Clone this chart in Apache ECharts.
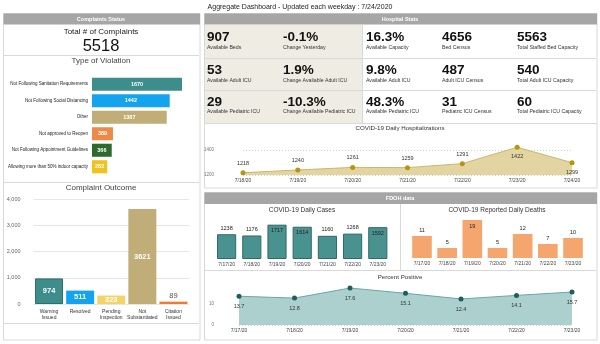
<!DOCTYPE html>
<html><head><meta charset="utf-8">
<script src="https://cdn.jsdelivr.net/npm/echarts@6/dist/echarts.min.js"></script>
<style>html,body{margin:0;padding:0;background:#fff}#c{width:600px;height:344px}</style>
</head><body><div id="c"></div>
<script>
// ---------- DATA ----------
const dashboardTitle = 'Aggregate Dashboard - Updated each weekday : 7/24/2020';
const totalComplaints = '5518';
const violationCats = ['Not Following Sanitation Requirements','Not Following Social Distancing','Other','Not approved to Reopen','Not Following Appointment Guidelines','Allowing more than 50% indoor capacity'];
const violationVals = [1670, 1442, 1387, 389, 366, 282];
const outcomeCats = ['Warning\nIssued','Resolved','Pending\nInspection','Not\nSubstantiated','Citation\nIssued'];
const outcomeVals = [974, 511, 323, 3621, 89];
const hospDates = ['7/18/20','7/19/20','7/20/20','7/21/20','7/22/20','7/23/20','7/24/20'];
const hospVals = [1218, 1240, 1261, 1259, 1291, 1422, 1299];
const fdohDates = ['7/17/20','7/18/20','7/19/20','7/20/20','7/21/20','7/22/20','7/23/20'];
const caseVals = [1238, 1176, 1717, 1614, 1160, 1268, 1592];
const deathVals = [11, 5, 19, 5, 12, 7, 10];
const positiveVals = [13.7, 12.8, 17.6, 15.1, 12.4, 14.1, 15.7];
const kpiRow1 = ['907','-0.1%','16.3%','4656','5563'];
const kpiRow1Labels = ['Available Beds','Change Yesterday','Available Capacity','Bed Census','Total Staffed Bed Capacity'];
const kpiRow2 = ['53','1.9%','9.8%','487','540'];
const kpiRow2Labels = ['Available Adult ICU','Change Available Adult ICU','Available Adult ICU','Adult ICU Census','Total Adult ICU Capacity'];
const kpiRow3 = ['29','-10.3%','48.3%','31','60'];
const kpiRow3Labels = ['Available Pediatric ICU','Change Available Pediatric ICU','Available Pediatric ICU','Pediatric ICU Census','Total Pediatric ICU Capacity'];

// ---------- STYLE ----------
const F = '"Liberation Sans", Arial, sans-serif';
const violationColors = ['#3d8d8a','#14a4ee','#c1ad77','#ee8a45','#2c6a2e','#f1c21b'];
const outcomeColors = ['#3d8d8a','#14a4ee','#f4d46a','#c1ad77','#ef7b32'];
const hospLabelPos = ['top','top','top','top','top','bottom','bottom'];
const HEAD = '#a6a6a6', BORDER = '#d9d9d9';

function txt(x, y, t, size, o = {}) {
  return { type: 'text', x, y, silent: true, style: {
    text: t, fill: o.color || '#333',
    font: `${o.weight || 'normal'} ${size}px ${F}`,
    textAlign: o.align || 'center', textVerticalAlign: 'middle',
    align: o.align || 'center', verticalAlign: 'middle' } };
}
function rect(x, y, w, h, fill, stroke) {
  return { type: 'rect', silent: true, z: -5, shape: { x, y, width: w, height: h },
    style: { fill: fill || 'none', stroke: stroke || null, lineWidth: 1 } };
}
function line(x1, y1, x2, y2, c) {
  return { type: 'line', silent: true, z: -4, shape: { x1, y1, x2, y2 }, style: { stroke: c || BORDER, lineWidth: 1 } };
}

const g = [];
g.push(txt(300, 7, dashboardTitle, 7, { color: '#222' }));
// left panel
g.push(rect(3.5, 13.5, 196.5, 326.5, '#fff', BORDER));
g.push(rect(3.5, 13.5, 196.5, 11, HEAD));
g.push(txt(101, 19, 'Complaints Status', 5.5, { color: '#fff', weight: 'bold' }));
g.push(txt(101, 32, 'Total # of Complaints', 8, { color: '#222' }));
g.push(txt(101, 46.5, totalComplaints, 16.5, { color: '#111' }));
g.push(line(4, 55.5, 199, 55.5));
g.push(txt(101, 61, 'Type of Violation', 8, { color: '#444' }));
g.push(line(4, 182.5, 199, 182.5));
g.push(txt(101, 188, 'Complaint Outcome', 8, { color: '#444' }));
g.push(line(4, 323.5, 199, 323.5));
// hospital stats
g.push(rect(204.5, 13.5, 392.5, 110, '#fff', BORDER));
g.push(rect(204.5, 13.5, 392.5, 11, HEAD));
g.push(txt(400, 19, 'Hospital Stats', 5.5, { color: '#fff', weight: 'bold' }));
g.push(rect(205, 25, 157, 98, '#efede3'));
g.push(line(205, 58.5, 596, 58.5));
g.push(line(205, 90.5, 596, 90.5));
g.push(line(362.5, 25, 362.5, 123));
const colX = [207, 283, 366, 442, 517];
[[kpiRow1, kpiRow1Labels, 37, 48], [kpiRow2, kpiRow2Labels, 70, 81], [kpiRow3, kpiRow3Labels, 102, 112]].forEach(([vals, labs, vy, ly]) => {
  vals.forEach((v, i) => {
    g.push(txt(colX[i], vy, v, 13.5, { align: 'left', weight: 'bold', color: '#111' }));
    g.push(txt(colX[i], ly, labs[i], 5.2, { align: 'left', color: '#333' }));
  });
});
g.push(rect(204.5, 123.5, 392.5, 64.5, '#fff', BORDER));
g.push(txt(400, 128.5, 'COVID-19 Daily Hospitalizations', 6.2, { color: '#333' }));
// FDOH
g.push(rect(204.5, 192.5, 392.5, 147.5, '#fff', BORDER));
g.push(rect(204.5, 192.5, 392.5, 11.5, HEAD));
g.push(txt(400, 198.5, 'FDOH data', 5.5, { color: '#fff', weight: 'bold' }));
g.push(line(400.5, 204, 400.5, 270));
g.push(line(205, 270.5, 596, 270.5));
g.push(txt(302, 210, 'COVID-19 Daily Cases', 6.5, { color: '#333' }));
g.push(txt(497, 210, 'COVID-19 Reported Daily Deaths', 6.5, { color: '#333' }));
g.push(txt(400, 277, 'Percent Positive', 6.2, { color: '#333' }));

const hidden = { show: false };
const plain = v => String(v);
const catAxis = (gi, data, bg) => ({ gridIndex: gi, type: 'category', data, boundaryGap: bg,
  axisLine: hidden, axisTick: hidden,
  axisLabel: { fontSize: 5, color: '#444', margin: 3, interval: 0, fontFamily: F } });

const option = {
  animation: false,
  backgroundColor: '#fff',
  graphic: { elements: g },
  grid: [
    { left: 92, top: 76, width: 97, height: 99 },
    { left: 33.5, top: 199, width: 155.5, height: 105 },
    { left: 243, top: 137.5, width: 329, height: 37.5 },
    { left: 214, top: 219, width: 176.4, height: 40 },
    { left: 409.4, top: 218, width: 176.2, height: 40 },
    { left: 239, top: 283, width: 333, height: 42 }
  ],
  xAxis: [
    { gridIndex: 0, type: 'value', min: 0, max: 1800, show: false },
    Object.assign(catAxis(1, outcomeCats, true), { axisLabel: { fontSize: 5, lineHeight: 5.5, color: '#333', margin: 5, interval: 0, fontFamily: F } }),
    catAxis(2, hospDates, false),
    catAxis(3, fdohDates, true),
    catAxis(4, fdohDates, true),
    catAxis(5, fdohDates, false)
  ],
  yAxis: [
    { gridIndex: 0, type: 'category', inverse: true, data: violationCats, axisLine: hidden, axisTick: hidden,
      axisLabel: { fontSize: 4.5, color: '#222', margin: 4, interval: 0, fontFamily: F } },
    { gridIndex: 1, type: 'value', min: 0, max: 4000, interval: 1000, axisLine: hidden, axisTick: hidden,
      axisLabel: { fontSize: 5.5, color: '#666', margin: 13, fontFamily: F },
      splitLine: { lineStyle: { color: '#e6e6e6', width: 1 } } },
    { gridIndex: 2, type: 'value', min: 1200, max: 1500, interval: 200, axisLine: hidden, axisTick: hidden,
      axisLabel: { fontSize: 4.5, color: '#777', margin: 29, showMaxLabel: false, formatter: plain, fontFamily: F },
      splitLine: { showMaxLine: false, lineStyle: { color: '#cfcfcf', type: [1, 2] } } },
    { gridIndex: 3, type: 'value', min: 0, max: 2000, show: false },
    { gridIndex: 4, type: 'value', min: 0, max: 20, show: false },
    { gridIndex: 5, type: 'value', min: 0, max: 20, interval: 10, axisLine: hidden, axisTick: hidden,
      axisLabel: { fontSize: 4.5, color: '#777', margin: 25, showMaxLabel: false, formatter: plain, fontFamily: F },
      splitLine: { showMaxLine: false, lineStyle: { color: '#cfcfcf', type: [1, 2] } } }
  ],
  series: [
    { type: 'bar', xAxisIndex: 0, yAxisIndex: 0, barCategoryGap: '21%',
      data: violationVals.map((v, i) => ({ value: v, itemStyle: { color: violationColors[i] } })),
      label: { show: true, position: 'inside', color: '#fff', fontSize: 5.5, fontWeight: 'bold', fontFamily: F } },
    { type: 'bar', xAxisIndex: 1, yAxisIndex: 1, barCategoryGap: '10%',
      data: outcomeVals.map((v, i) => ({ value: v,
        itemStyle: { color: outcomeColors[i], borderColor: i === 0 ? '#2b6e6b' : outcomeColors[i], borderWidth: i === 0 ? 1 : 0 },
        label: v < 200 ? { position: 'top', color: '#555', fontWeight: 'normal', distance: 2 } : { position: 'inside' } })),
      label: { show: true, color: '#fff', fontSize: 7.5, fontWeight: 'bold', fontFamily: F } },
    { type: 'line', xAxisIndex: 2, yAxisIndex: 2, symbol: 'circle', symbolSize: 5,
      data: hospVals.map((v, i) => ({ value: v, label: { position: hospLabelPos[i] } })),
      lineStyle: { color: '#cdb56a', width: 1 }, itemStyle: { color: '#b8940f' },
      areaStyle: { color: '#e3d5a2', opacity: 1, origin: 'start' },
      label: { show: true, fontSize: 5.5, color: '#333', distance: 4, fontFamily: F } },
    { type: 'bar', xAxisIndex: 3, yAxisIndex: 3, barCategoryGap: '24%',
      data: caseVals.map(v => ({ value: v, label: { position: v > 1500 ? 'insideTop' : 'top' } })),
      itemStyle: { color: '#4a928f', borderColor: '#2d6b69', borderWidth: 1 },
      label: { show: true, fontSize: 5.5, color: '#222', distance: 3, fontFamily: F } },
    { type: 'bar', xAxisIndex: 4, yAxisIndex: 4, barCategoryGap: '22%',
      data: deathVals.map(v => ({ value: v, label: { position: v > 15 ? 'insideTop' : 'top' } })),
      itemStyle: { color: '#f5a66e' },
      label: { show: true, fontSize: 5.5, color: '#222', distance: 3, fontFamily: F } },
    { type: 'line', xAxisIndex: 5, yAxisIndex: 5, symbol: 'circle', symbolSize: 5,
      data: positiveVals,
      lineStyle: { color: '#6aa8a5', width: 1 }, itemStyle: { color: '#1e5e5b' },
      areaStyle: { color: '#abd0ce', opacity: 1, origin: 'start' },
      label: { show: true, position: 'bottom', fontSize: 5.5, color: '#333', distance: 5, fontFamily: F } }
  ]
};
const chart = echarts.init(document.getElementById('c'), null, { renderer: 'canvas' });
chart.setOption(option);
</script></body></html>
